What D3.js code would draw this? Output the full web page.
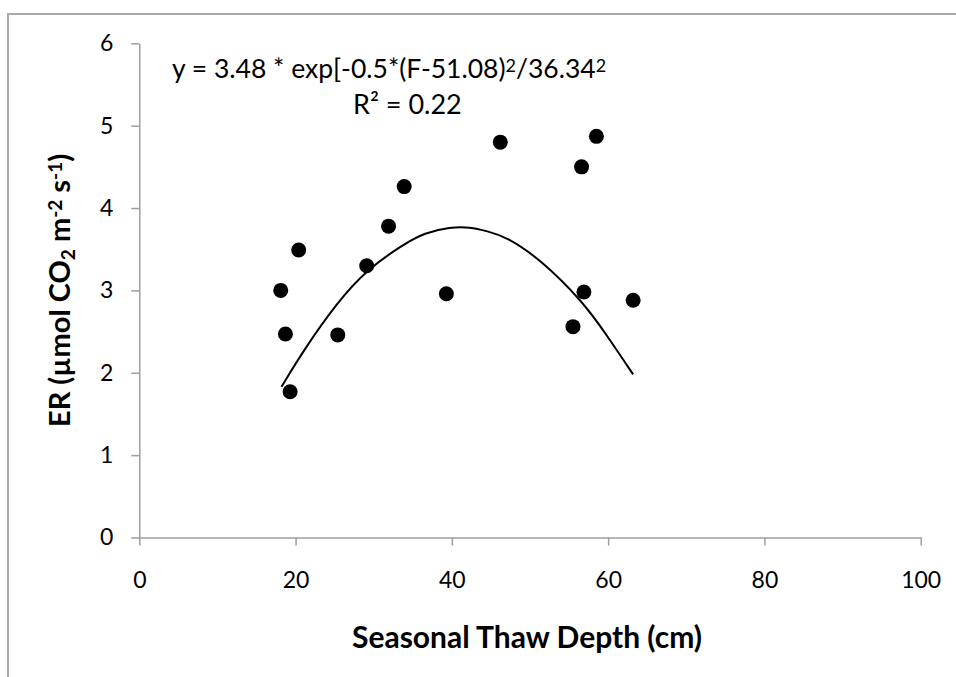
<!DOCTYPE html>
<html>
<head>
<meta charset="utf-8">
<script src="https://cdn.jsdelivr.net/npm/d3@7"></script>
<style>
  body { margin: 0; background: #fff; }
  text { font-family: Lato, "Open Sans", sans-serif; fill: #000; }
</style>
</head>
<body>
<div id="scatter-chart"></div>
<script>
// measured points: thaw depth (cm) vs ER
const thawDepth = [18.1, 18.7, 19.3, 20.4, 25.4, 29.1, 31.9, 33.9, 39.3, 46.2, 55.5, 56.6, 56.9, 58.5, 63.2];
const erValues  = [3.00, 2.47, 1.77, 3.49, 2.46, 3.30, 3.78, 4.26, 2.96, 4.80, 2.56, 4.50, 2.98, 4.87, 2.88];

// fitted curve
const fitDepth = [18.2, 21.0, 25.3, 29.1, 33.8, 36.5, 39.8, 42.3, 44.5, 47.0, 51.3, 56.8, 59.8, 63.2];
const fitER    = [1.83, 2.27, 2.85, 3.25, 3.56, 3.70, 3.77, 3.77, 3.72, 3.65, 3.38, 2.86, 2.46, 1.98];

const xTicks = [0, 20, 40, 60, 80, 100];
const yTicks = [0, 1, 2, 3, 4, 5, 6];

const points = thawDepth.map((d, i) => ({x: d, y: erValues[i]}));
const fitLine = fitDepth.map((d, i) => ({x: d, y: fitER[i]}));

//// Chart dimensions
let dimensions = {
  width: 956,
  height: 677,
  margin: {
    top: 43.3,
    right: 35.3,
    bottom: 139.5,
    left: 139.3,
  },
}
dimensions.boundedWidth = dimensions.width - dimensions.margin.left - dimensions.margin.right
dimensions.boundedHeight = dimensions.height - dimensions.margin.top - dimensions.margin.bottom

const wrapper = d3.select('#scatter-chart')
  .append('svg')
  .attr('width', dimensions.width)
  .attr('height', dimensions.height)

// outer chart frame (runs off the right / bottom edge)
wrapper.append('rect')
  .attr('x', 8)
  .attr('y', 14)
  .attr('width', 1000)
  .attr('height', 700)
  .attr('fill', 'none')
  .attr('stroke', '#a9a9a9')
  .attr('stroke-width', 2)

const bounds = wrapper.append('g')
  .attr('transform', `translate(${dimensions.margin.left},${dimensions.margin.top})`)

//// Scales
const xScale = d3.scaleLinear()
  .domain([0, 100])
  .range([0, dimensions.boundedWidth])

const yScale = d3.scaleLinear()
  .domain([0, 6])
  .range([dimensions.boundedHeight, 0])

//// Axes
const xAxisGenerator = d3.axisBottom(xScale)
  .tickValues(xTicks)
  .tickFormat(d3.format('d'))
  .tickSize(8)
  .tickSizeOuter(0)
  .tickPadding(26)

const xAxis = bounds.append('g')
  .attr('transform', `translate(0,${dimensions.boundedHeight})`)
  .call(xAxisGenerator)

const yAxisGenerator = d3.axisLeft(yScale)
  .tickValues(yTicks)
  .tickFormat(d3.format('d'))
  .tickSize(8)
  .tickSizeOuter(0)
  .tickPadding(18)

const yAxis = bounds.append('g')
  .call(yAxisGenerator)

;[xAxis, yAxis].forEach(axis => {
  axis.select('.domain').attr('stroke', '#9e9e9e').attr('stroke-width', 1.5)
  axis.selectAll('.tick line').attr('stroke', '#9e9e9e').attr('stroke-width', 1.5)
  axis.selectAll('.tick text')
    .style('font-family', 'Lato, sans-serif')
    .style('font-size', '23px')
    .attr('fill', '#000')
})

//// Fit curve
const lineGenerator = d3.line()
  .x(d => xScale(d.x))
  .y(d => yScale(d.y))
  .curve(d3.curveBasis)

bounds.append('path')
  .datum(fitLine)
  .attr('d', lineGenerator)
  .attr('fill', 'none')
  .attr('stroke', '#000')
  .attr('stroke-width', 2)

//// Points
bounds.selectAll('circle')
  .data(points)
  .join('circle')
  .attr('cx', d => xScale(d.x))
  .attr('cy', d => yScale(d.y))
  .attr('r', 7.5)
  .attr('fill', '#000')

//// Equation
const eq = wrapper.append('text')
  .attr('x', 172)
  .attr('y', 78)
  .style('font-size', '26.5px')
eq.append('tspan').text('y = 3.48 * exp[-0.5*(F-51.08)')
eq.append('tspan').attr('baseline-shift', '35%').style('font-size', '18px').text('2')
eq.append('tspan').text('/36.34')
eq.append('tspan').attr('baseline-shift', '35%').style('font-size', '18px').text('2')

wrapper.append('text')
  .attr('x', 353)
  .attr('y', 114)
  .style('font-size', '27px')
  .text('R² = 0.22')

//// Axis titles
xAxis.append('text')
  .attr('x', dimensions.boundedWidth / 2 - 3)
  .attr('y', 110)
  .attr('text-anchor', 'middle')
  .style('font-size', '30px')
  .style('font-weight', 'bold')
  .attr('fill', '#000')
  .text('Seasonal Thaw Depth (cm)')

const yTitle = wrapper.append('text')
  .attr('transform', `translate(70,${dimensions.margin.top + dimensions.boundedHeight / 2}) rotate(-90)`)
  .attr('text-anchor', 'middle')
  .style('font-size', '29px')
  .style('font-weight', 'bold')
yTitle.append('tspan').text('ER (µmol CO')
yTitle.append('tspan').attr('baseline-shift', '-25%').style('font-size', '19px').text('2')
yTitle.append('tspan').text(' m')
yTitle.append('tspan').attr('baseline-shift', '40%').style('font-size', '19px').text('-2')
yTitle.append('tspan').text(' s')
yTitle.append('tspan').attr('baseline-shift', '40%').style('font-size', '19px').text('-1')
yTitle.append('tspan').text(')')
</script>
</body>
</html>
